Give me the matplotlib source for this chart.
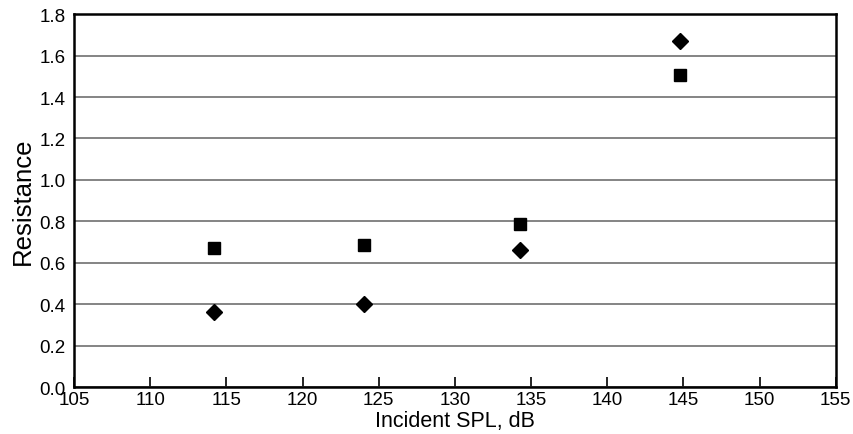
import matplotlib
matplotlib.use("Agg")
import matplotlib.pyplot as plt

# ── data ─────────────────────────────────────────────────────────────────────
spl_db = [114.2, 124.0, 134.3, 144.8]
resistance_square = [0.67, 0.685, 0.785, 1.505]
resistance_diamond = [0.36, 0.40, 0.66, 1.67]

x_ticks = [105, 110, 115, 120, 125, 130, 135, 140, 145, 150, 155]
y_ticks = [0.0, 0.2, 0.4, 0.6, 0.8, 1.0, 1.2, 1.4, 1.6, 1.8]

plt.rcParams["font.family"] = ["Liberation Sans", "DejaVu Sans"]

fig = plt.figure(figsize=(8.54, 4.35), dpi=100)
ax = fig.add_axes([0.0867, 0.108, 0.892, 0.857])

ax.plot(spl_db, resistance_square, ls="none", marker="s", ms=8.5, color="black")
ax.plot(spl_db, resistance_diamond, ls="none", marker="D", ms=8.3, color="black")

ax.set_xlim(105, 155)
ax.set_ylim(0, 1.8)
ax.set_xticks(x_ticks)
ax.set_yticks(y_ticks)
ax.set_yticklabels([f"{v:.1f}" for v in y_ticks])

ax.yaxis.grid(True, color="#707070", lw=1.2)
ax.set_axisbelow(True)

ax.tick_params(axis="x", direction="in", length=7, width=1.2, labelsize=13.5, pad=3)
ax.tick_params(axis="y", length=0, labelsize=13.5, pad=6)
for s in ax.spines.values():
    s.set_linewidth(1.8)

ax.set_xlabel("Incident SPL, dB", fontsize=15.5, labelpad=1)
ax.set_ylabel("Resistance", fontsize=18.5, labelpad=3)

fig.savefig("out.png", dpi=100)
